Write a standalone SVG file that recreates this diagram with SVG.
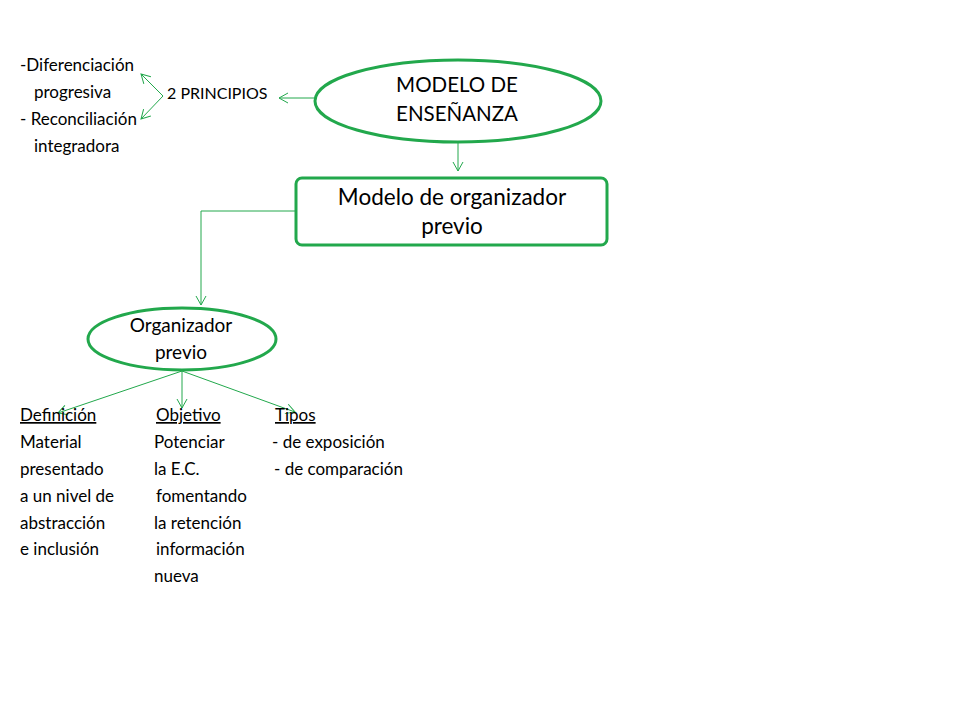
<svg xmlns="http://www.w3.org/2000/svg" width="960" height="720" viewBox="0 0 960 720">
<defs>
<marker id="ah" markerWidth="12" markerHeight="12" refX="10" refY="6" orient="auto" markerUnits="userSpaceOnUse">
<path d="M1,1 L10,6 L1,11" fill="none" stroke="#22a84c" stroke-width="1"/>
</marker>
</defs>
<style>
text{font-family:Lato,"Liberation Sans",Arial,sans-serif;fill:#000}
.s{font-size:17px}
.p{font-size:16px}
.m{font-size:19px}
.big{font-size:20.5px}
.box{font-size:22.5px}
.node{fill:#fff;stroke:#22a84c;stroke-width:3}
.c{fill:none;stroke:#22a84c;stroke-width:1;marker-end:url(#ah)}
.u{text-decoration:underline}
</style>
<rect width="960" height="720" fill="#fff"/>
<g id="connectors">
<path class="c" d="M315,98 L279,98"/>
<path class="c" d="M163,96 L141,74"/>
<path class="c" d="M163,96 L141,119"/>
<path class="c" d="M458,142 L458,171"/>
<path class="c" d="M296,211 L201,211 L201,305"/>
<path class="c" d="M182,371 L58,413"/>
<path class="c" d="M182,371 L182,408"/>
<path class="c" d="M182,371 L295,412"/>
</g>
<g id="principios-text">
<text class="s" x="20" y="71">-Diferenciación</text>
<text class="s" x="34" y="98">progresiva</text>
<text class="s" x="20" y="125">- Reconciliación</text>
<text class="s" x="34" y="152">integradora</text>
<text class="p" x="167" y="99">2 PRINCIPIOS</text>
</g>
<g id="modelo-ensenanza">
<ellipse class="node" cx="458" cy="101" rx="143" ry="41"/>
<text class="big" x="457" y="92" text-anchor="middle">MODELO DE</text>
<text class="big" x="457" y="121" text-anchor="middle">ENSEÑANZA</text>
</g>
<g id="modelo-organizador">
<rect class="node" x="296" y="178" width="311" height="67" rx="6"/>
<text class="box" x="452" y="205" text-anchor="middle">Modelo de organizador</text>
<text class="box" x="452" y="234" text-anchor="middle">previo</text>
</g>
<g id="organizador-previo">
<ellipse class="node" cx="182" cy="339" rx="94" ry="31"/>
<text class="m" x="181" y="332" text-anchor="middle">Organizador</text>
<text class="m" x="181" y="359" text-anchor="middle">previo</text>
</g>
<g id="definicion">
<text class="s u" x="20" y="421">Definición </text>
<text class="s" x="20" y="448">Material</text>
<text class="s" x="20" y="475">presentado</text>
<text class="s" x="20" y="502">a un nivel de</text>
<text class="s" x="20" y="529">abstracción</text>
<text class="s" x="20" y="555">e inclusión</text>
</g>
<g id="objetivo">
<text class="s u" x="156" y="421">Objetivo</text>
<text class="s" x="154" y="448">Potenciar</text>
<text class="s" x="154" y="475">la E.C.</text>
<text class="s" x="156" y="502">fomentando</text>
<text class="s" x="154" y="529">la retención</text>
<text class="s" x="156" y="555">información</text>
<text class="s" x="154" y="582">nueva</text>
</g>
<g id="tipos">
<text class="s u" x="275" y="421">Tipos</text>
<text class="s" x="272" y="448">- de exposición</text>
<text class="s" x="274" y="475">- de comparación</text>
</g>
</svg>
